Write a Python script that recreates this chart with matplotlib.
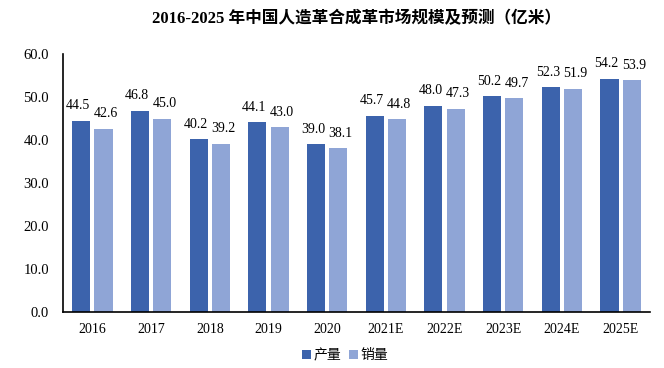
import numpy as np
import matplotlib
matplotlib.use('Agg')
import matplotlib.pyplot as plt

years = ['2016', '2017', '2018', '2019', '2020', '2021E', '2022E', '2023E', '2024E', '2025E']
production = [44.5, 46.8, 40.2, 44.1, 39.0, 45.7, 48.0, 50.2, 52.3, 54.2]
sales = [42.6, 45.0, 39.2, 43.0, 38.1, 44.8, 47.3, 49.7, 51.9, 53.9]

plt.rcParams['font.family'] = ['Liberation Serif', 'Noto Sans CJK SC', 'DejaVu Sans']

fig = plt.figure(figsize=(6.64, 3.68), dpi=100)
ax = fig.add_axes([0.0949, 0.152, 0.884, 0.701])

x = np.arange(len(years))
w = 0.31
off = 0.19
b1 = ax.bar(x - off, production, w, color='#3C63AC', label='产量')
b2 = ax.bar(x + off, sales, w, color='#8FA5D6', label='销量')

# data labels, nudged apart a little like the original
for bars, vals, dx in ((b1, production, -0.05), (b2, sales, 0.04)):
    for r, v in zip(bars, vals):
        ax.text(r.get_x() + r.get_width() / 2 + dx, v + 2.0, f'{v:.1f}',
                ha='center', va='bottom', fontsize=10)

ax.set_xlim(-0.5, len(years) - 0.5)
ax.set_ylim(0, 60)
ax.set_yticks(np.arange(0, 61, 10))
ax.set_yticklabels([f'{t:.1f}' for t in np.arange(0, 61, 10)], fontsize=10.5)
ax.set_xticks(x)
ax.set_xticklabels(years, fontsize=10)
ax.tick_params(axis='both', length=0, pad=8)
ax.tick_params(axis='y', pad=10)

for s in ['top', 'right']:
    ax.spines[s].set_visible(False)
ax.spines['left'].set_linewidth(1.2)
ax.spines['bottom'].set_linewidth(1.2)

fig.text(0.537, 0.949, '2016-2025 年中国人造革合成革市场规模及预测（亿米）',
         ha='center', va='center', fontsize=12, fontweight='bold')

fig.legend(handles=[b1, b2], loc='center', bbox_to_anchor=(0.52, 0.035), ncol=2,
           frameon=False, handlelength=0.6, handleheight=0.6, handletextpad=0.2,
           columnspacing=0.6, prop={'family': ['Noto Sans CJK SC'], 'size': 10})

fig.savefig('out.png', dpi=100)
